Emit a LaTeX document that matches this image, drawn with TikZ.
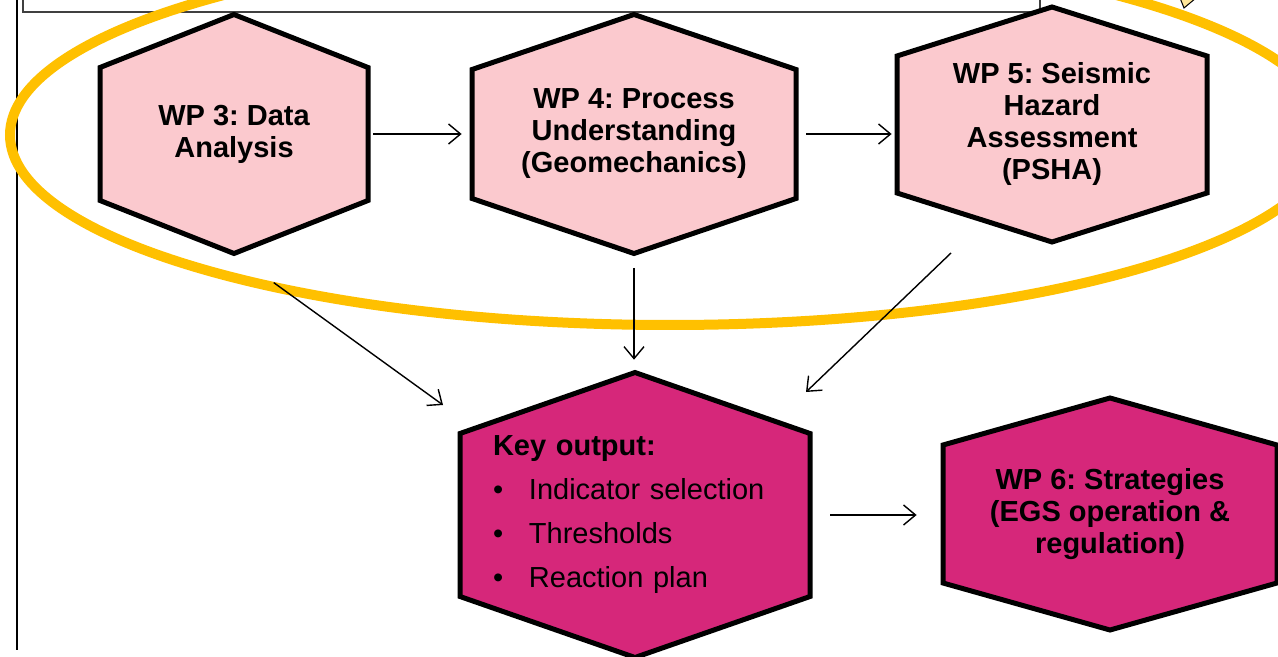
\documentclass[tikz,border=0pt]{standalone}
\usepackage{fontspec}
\setmainfont{Liberation Sans}
\usetikzlibrary{arrows.meta}
\frenchspacing

\definecolor{wppink}{RGB}{251,201,206}
\definecolor{wpmagenta}{RGB}{214,39,122}
\definecolor{ringgold}{RGB}{255,192,0}
\definecolor{tailyellow}{RGB}{255,230,153}

\tikzset{
  hexline/.style={draw=black, line width=2.5pt, line join=miter},
  hextext/.style={inner sep=0pt, align=center, font=\bfseries\fontsize{14.5}{16}\selectfont},
  keytext/.style={align=left, inner xsep=16.5pt, text width=142pt, font=\fontsize{14.5}{22}\selectfont},
  arr/.style={-{Straight Barb[length=6pt,width=10pt]}, line width=0.7pt},
}

% hexagon: name, fill, centre x, centre y, half width, half height, corner drop, text style, text
\newcommand{\wphex}[9]{%
  \filldraw[hexline, fill=#2] (#3,{#4-#6}) -- ({#3+#5},{#4-#6+#7}) -- ({#3+#5},{#4+#6-#7})
    -- (#3,{#4+#6}) -- ({#3-#5},{#4+#6-#7}) -- ({#3-#5},{#4-#6+#7}) -- cycle;
  \node[hextext, #8, minimum width=#5*1pt, minimum height=#6*1pt] (#1) at (#3,#4) {#9};
}

\begin{document}
\begin{tikzpicture}[x=0.5pt, y=-0.5pt]
  \clip (0,0) rectangle (1278,657);
  \fill[white] (0,0) rectangle (1278,657);

  % frame pieces
  \draw[draw=black!75, line width=0.8pt] (23,-10) rectangle (1040,12);
  \draw[line width=0.75pt] (17,-5) -- (17,650);
  \filldraw[fill=tailyellow, draw=black, line width=0.5pt] (1180,-2) -- (1184,8) -- (1196,-2);

  % ring round the work packages
  \draw[ringgold, line width=5pt] (670,135) ellipse [x radius=660, y radius=190];

  % Nodes
  \wphex{wp3}{wppink}{234}{134}{134}{119.5}{53}{}{WP 3: Data\\Analysis}
  \wphex{wp4}{wppink}{634}{134}{162}{119.5}{55}{}{WP 4: Process\\Understanding\\(Geomechanics)}
  \wphex{wp5}{wppink}{1052}{124.5}{155}{117.5}{49}{}{WP 5: Seismic\\Hazard\\Assessment\\(PSHA)}
  \wphex{key}{wpmagenta}{635}{515}{175}{142.5}{61}{keytext}{\textbf{Key output:}\\
    \makebox[18pt][l]{\textbullet}Indicator selection\\
    \makebox[18pt][l]{\textbullet}Thresholds\\
    \makebox[18pt][l]{\textbullet}Reaction plan}
  \wphex{wp6}{wpmagenta}{1110}{514}{167}{116}{47}{}{WP 6: Strategies\\(EGS operation \&\\regulation)}

  % free arrow ends
  \coordinate (in3) at (443,405);
  \coordinate (out5) at (951,253);
  \coordinate (in5) at (806,392);

  % Arrows
  \draw[arr, shorten <=2.5pt, shorten >=5pt] (wp3.east) -- (wp4.west);
  \draw[arr, shorten <=5pt, shorten >=2.5pt] (wp4.east) -- (wp4.east -| wp5.west);
  \draw[arr, shorten <=24.5pt] (wp3.south) -- (in3);
  \draw[arr, shorten <=7pt, shorten >=6.2pt] (wp4.south) -- (wp4.south |- key.north);
  \draw[arr] (out5) -- (in5);
  \draw[arr, shorten <=10pt, shorten >=13pt] (key.east) -- (key.east -| wp6.west);
\end{tikzpicture}
\end{document}
